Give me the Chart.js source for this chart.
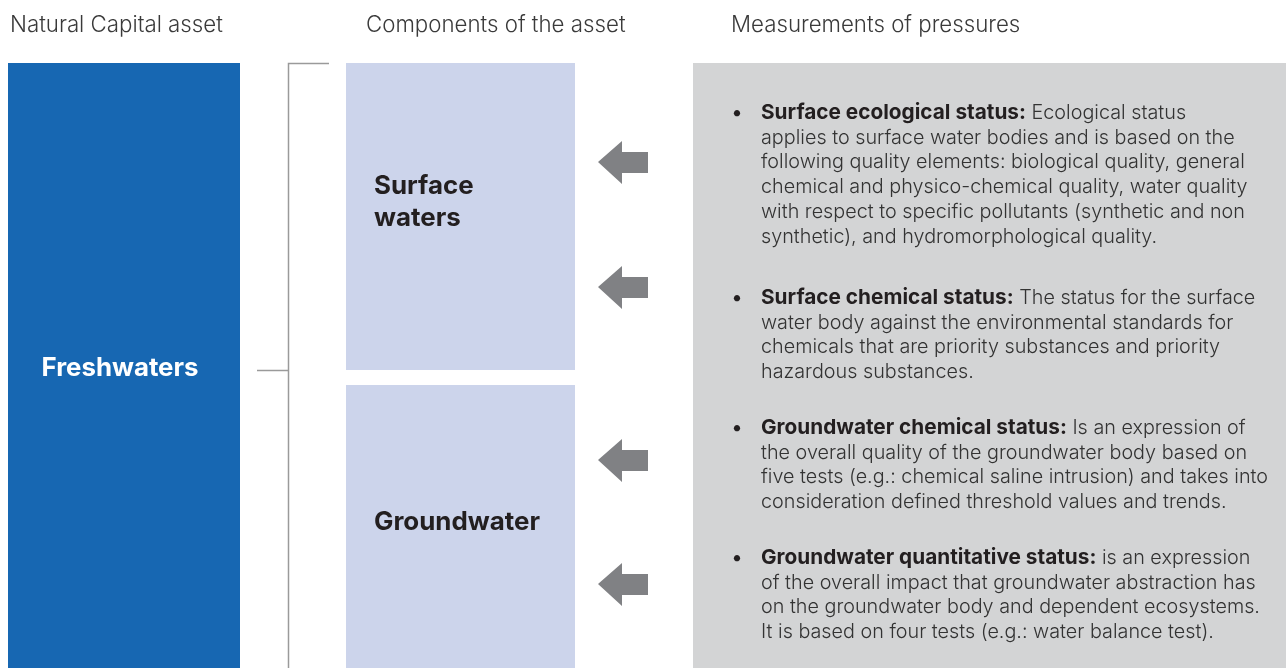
<!DOCTYPE html>
<html>
<head>
<meta charset="utf-8">
<script src="https://cdn.jsdelivr.net/npm/chart.js@4.4.1/dist/chart.umd.min.js"></script>
<style>
  html, body { margin: 0; padding: 0; background: #fff; }
  #wrap { width: 1286px; height: 668px; position: relative; }
</style>
</head>
<body>
<div id="wrap"><canvas id="myChart"></canvas></div>
<script>
// diagram content
const headers = ['Natural Capital asset', 'Components of the asset', 'Measurements of pressures'];
const assetName = 'Freshwaters';
const components = [['Surface', 'waters'], ['Groundwater']];
const pressureTitles = [
  'Surface ecological status:',
  'Surface chemical status:',
  'Groundwater chemical status:',
  'Groundwater quantitative status:'
];
const pressureLines = [
  ['Ecological status',
   'applies to surface water bodies and is based on the',
   'following quality elements: biological quality, general',
   'chemical and physico-chemical quality, water quality',
   'with respect to specific pollutants (synthetic and non',
   'synthetic), and hydromorphological quality.'],
  ['The status for the surface',
   'water body against the environmental standards for',
   'chemicals that are priority substances and priority',
   'hazardous substances.'],
  ['Is an expression of',
   'the overall quality of the groundwater body based on',
   'five tests (e.g.: chemical saline intrusion) and takes into',
   'consideration defined threshold values and trends.'],
  ['is an expression',
   'of the overall impact that groundwater abstraction has',
   'on the groundwater body and dependent ecosystems.',
   'It is based on four tests (e.g.: water balance test).']
];

const ctx1 = document.getElementById('myChart');
const FAM = 'Inter, Roboto, "Liberation Sans", sans-serif';

// pick a font size so a sample string gets the width seen in the picture
function fitFont(c, weight, sample, width) {
  c.font = weight + ' 20px ' + FAM;
  const s = 20 * width / c.measureText(sample).width;
  return weight + ' ' + s.toFixed(2) + 'px ' + FAM;
}

const diagramPlugin = {
  id: 'diagram',
  beforeDraw(chart) {
    const c = chart.ctx;
    const sx = chart.scales.x, sy = chart.scales.y;
    const X = v => sx.getPixelForValue(v);
    const Y = v => sy.getPixelForValue(v);
    function rect(x0, y0, x1, y1, col) {
      c.fillStyle = col;
      c.fillRect(X(x0), Y(y0), X(x1) - X(x0), Y(y1) - Y(y0));
    }
    c.save();
    c.fillStyle = '#fff';
    c.fillRect(0, 0, chart.width, chart.height);

    // headers
    c.textBaseline = 'middle';
    c.fillStyle = '#3a3a3a';
    c.font = fitFont(c, '300', headers[0], 213);
    [10, 366, 731].forEach((x, i) => c.fillText(headers[i], X(x), Y(25)));

    // asset box
    rect(8, 63, 240, 668, '#1767b2');
    c.fillStyle = '#fff';
    c.font = fitFont(c, 'bold', assetName, 157);
    c.textAlign = 'center';
    c.fillText(assetName, X(120), Y(368));
    c.textAlign = 'left';

    // bracket
    c.strokeStyle = '#9a9a9a';
    c.lineWidth = 1.5;
    c.beginPath();
    c.moveTo(X(329), Y(63.5)); c.lineTo(X(288.5), Y(63.5)); c.lineTo(X(288.5), Y(668));
    c.moveTo(X(257), Y(370.5)); c.lineTo(X(288.5), Y(370.5));
    c.stroke();

    // component boxes
    rect(346, 63, 575, 370, '#ccd4eb');
    rect(346, 385, 575, 668, '#ccd4eb');
    c.fillStyle = '#231f20';
    c.font = fitFont(c, 'bold', components[1][0], 166);
    c.fillText(components[0][0], X(374), Y(186));
    c.fillText(components[0][1], X(374), Y(218));
    c.fillText(components[1][0], X(374), Y(522));

    // arrows
    c.fillStyle = '#808184';
    [162, 287, 460, 584].forEach(y => {
      c.beginPath();
      c.moveTo(X(598), Y(y));
      c.lineTo(X(622), Y(y - 21));
      c.lineTo(X(622), Y(y - 10));
      c.lineTo(X(648), Y(y - 10));
      c.lineTo(X(648), Y(y + 11));
      c.lineTo(X(622), Y(y + 11));
      c.lineTo(X(622), Y(y + 22));
      c.closePath();
      c.fill();
    });

    // pressures panel
    rect(693, 63, 1286, 668, '#d3d4d5');
    const starts = [113, 298, 428, 558];
    const lh = 24.75;
    const reg = fitFont(c, '300', pressureLines[0][1], 474);
    const bold = fitFont(c, 'bold', pressureTitles[0], 265);
    pressureTitles.forEach((t, i) => {
      const y0 = starts[i];
      c.fillStyle = '#231f20';
      c.font = 'bold 20px ' + FAM;
      c.textAlign = 'center';
      c.fillText('\u2022', X(737), Y(y0));
      c.textAlign = 'left';
      c.font = bold;
      c.fillText(t, X(761), Y(y0));
      const w = c.measureText(t).width;
      c.font = reg;
      c.fillStyle = '#333';
      const sp = c.measureText(' ').width;
      pressureLines[i].forEach((ln, j) => {
        const x = j === 0 ? X(761) + w + sp : X(761);
        c.fillText(ln, x, Y(y0 + j * lh));
      });
    });
    c.restore();
  }
};

myChart1 = new Chart(ctx1, {
  type: 'scatter',
  data: { datasets: [{ data: [], pointRadius: 0 }] },
  options: {
    responsive: true,
    maintainAspectRatio: false,
    animation: false,
    layout: { padding: 0 },
    plugins: { legend: { display: false }, tooltip: { enabled: false } },
    scales: {
      x: { type: 'linear', min: 0, max: 1286, display: false },
      y: { type: 'linear', min: 0, max: 668, reverse: true, display: false }
    }
  },
  plugins: [diagramPlugin]
});
</script>
</body>
</html>
